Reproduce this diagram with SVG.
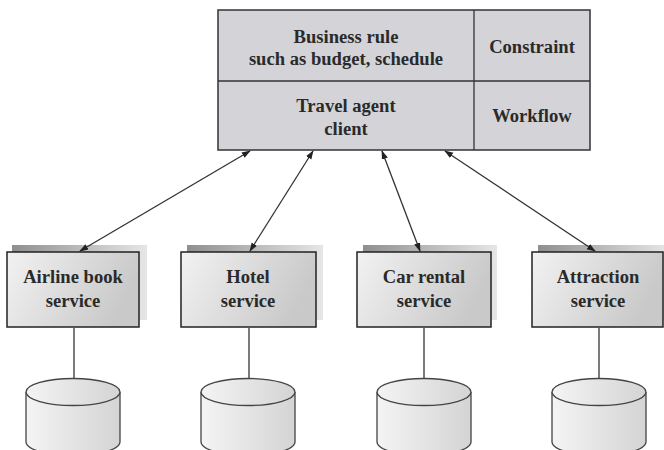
<svg xmlns="http://www.w3.org/2000/svg" width="664" height="450" viewBox="0 0 664 450">
<style>
.t{font-family:"Liberation Serif","Times New Roman",serif;font-weight:bold;font-size:18.6px;fill:#2a2a2a;text-anchor:middle}
.top{fill:#d4d4d8;stroke:#333;stroke-width:1.5}
.box{fill:url(#bg);stroke:#222;stroke-width:1.5}
.sh{fill:url(#sg)}
.ln{stroke:#333;stroke-width:1.3;fill:none}
.cyl{fill:url(#cg);stroke:#444;stroke-width:1.3}
</style>
<defs>
<linearGradient id="bg" x1="0" y1="0" x2="1" y2="0.3"><stop offset="0" stop-color="#f2f2f2"/><stop offset="1" stop-color="#c9c9c9"/></linearGradient>
<linearGradient id="sg" x1="0" y1="0" x2="1" y2="0"><stop offset="0" stop-color="#8f8f8f"/><stop offset="1" stop-color="#e6e6e6"/></linearGradient>
<linearGradient id="cg" x1="0" y1="0" x2="1" y2="0"><stop offset="0" stop-color="#f4f4f4"/><stop offset="1" stop-color="#d4d4d4"/></linearGradient>
<marker id="ah" viewBox="0 0 10 10" refX="9" refY="5" markerWidth="9" markerHeight="9" orient="auto-start-reverse" markerUnits="userSpaceOnUse"><path d="M0,1.5 L10,5 L0,8.5 Z" fill="#222"/></marker>
</defs>
<g id="top-box">
<rect class="top" x="218" y="10" width="372" height="140"/>
<line class="ln" x1="218" y1="81" x2="590" y2="81"/>
<line class="ln" x1="474" y1="10" x2="474" y2="150"/>
<text class="t" x="346" y="43">Business rule</text>
<text class="t" x="346" y="65">such as budget, schedule</text>
<text class="t" x="532" y="53">Constraint</text>
<text class="t" x="346" y="112">Travel agent</text>
<text class="t" x="346" y="135">client</text>
<text class="t" x="532" y="122">Workflow</text>
</g>
<g id="airline">
<rect class="sh" x="12" y="245" width="135" height="75"/>
<rect class="box" x="7" y="252" width="132" height="75"/>
<text class="t" x="73" y="283">Airline book</text>
<text class="t" x="73" y="307">service</text>
</g>
<g id="hotel">
<rect class="sh" x="187" y="245" width="136" height="75"/>
<rect class="box" x="181" y="252" width="135" height="75"/>
<text class="t" x="248" y="283">Hotel</text>
<text class="t" x="248" y="307">service</text>
</g>
<g id="car">
<rect class="sh" x="363" y="245" width="134" height="75"/>
<rect class="box" x="357" y="252" width="134" height="75"/>
<text class="t" x="424" y="283">Car rental</text>
<text class="t" x="424" y="307">service</text>
</g>
<g id="attraction">
<rect class="sh" x="538" y="245" width="130" height="75"/>
<rect class="box" x="532" y="252" width="131" height="75"/>
<text class="t" x="598" y="283">Attraction</text>
<text class="t" x="598" y="307">service</text>
</g>
<g id="db1">
<path class="cyl" d="M26,392 L26,442 A47,13.5 0 0 0 120,442 L120,392"/>
<ellipse class="cyl" cx="73" cy="392" rx="47" ry="13.5"/>
</g>
<g id="db2">
<path class="cyl" d="M201,392 L201,442 A47,13.5 0 0 0 295,442 L295,392"/>
<ellipse class="cyl" cx="248" cy="392" rx="47" ry="13.5"/>
</g>
<g id="db3">
<path class="cyl" d="M377,392 L377,442 A47,13.5 0 0 0 471,442 L471,392"/>
<ellipse class="cyl" cx="424" cy="392" rx="47" ry="13.5"/>
</g>
<g id="db4">
<path class="cyl" d="M552,392 L552,442 A47,13.5 0 0 0 646,442 L646,392"/>
<ellipse class="cyl" cx="599" cy="392" rx="47" ry="13.5"/>
</g>
<g id="connectors">
<line class="ln" x1="250" y1="151" x2="80" y2="251" marker-start="url(#ah)" marker-end="url(#ah)"/>
<line class="ln" x1="313" y1="151" x2="250" y2="251" marker-start="url(#ah)" marker-end="url(#ah)"/>
<line class="ln" x1="382" y1="151" x2="420" y2="251" marker-start="url(#ah)" marker-end="url(#ah)"/>
<line class="ln" x1="445" y1="151" x2="595" y2="251" marker-start="url(#ah)" marker-end="url(#ah)"/>
<line class="ln" x1="74" y1="328" x2="74" y2="378"/>
<line class="ln" x1="249" y1="328" x2="249" y2="378"/>
<line class="ln" x1="424" y1="328" x2="424" y2="378"/>
<line class="ln" x1="599" y1="328" x2="599" y2="378"/>
</g>
</svg>
